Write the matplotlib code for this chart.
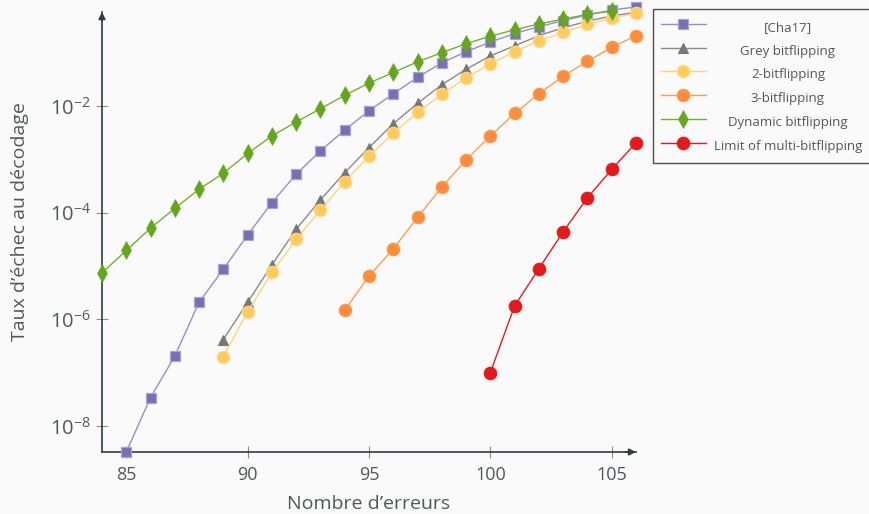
import numpy as np
import matplotlib
matplotlib.use("Agg")
import matplotlib.pyplot as plt
from matplotlib.ticker import FixedLocator, LogFormatterMathtext, NullLocator

plt.rcParams['font.family'] = ['Open Sans', 'DejaVu Sans']
plt.rcParams['mathtext.fontset'] = 'custom'
plt.rcParams['mathtext.rm'] = 'Open Sans'
plt.rcParams['mathtext.it'] = 'Open Sans:italic'
plt.rcParams['mathtext.bf'] = 'Open Sans:bold'

# ---- data (log10 of failure rate) ----
x_cha17 = list(range(85, 107))
y_cha17 = [-8.49, -7.47, -6.69, -5.68, -5.06, -4.42, -3.81, -3.28, -2.84, -2.45, -2.09,
           -1.77, -1.46, -1.19, -0.98, -0.80, -0.64, -0.51, -0.40, -0.29, -0.20, -0.14]

x_grey = list(range(89, 107))
y_grey = [-6.38, -5.68, -4.98, -4.31, -3.76, -3.25, -2.78, -2.33, -1.95, -1.60, -1.31,
          -1.06, -0.87, -0.68, -0.53, -0.41, -0.31, -0.24]

x_two = list(range(89, 107))
y_two = [-6.70, -5.86, -5.12, -4.50, -3.95, -3.42, -2.94, -2.51, -2.12, -1.78, -1.47,
         -1.21, -0.98, -0.78, -0.62, -0.47, -0.35, -0.26]

x_three = list(range(94, 107))
y_three = [-5.83, -5.19, -4.68, -4.09, -3.52, -3.01, -2.56, -2.14, -1.77, -1.44, -1.16,
           -0.90, -0.68]

x_dyn = list(range(84, 106))
y_dyn = [-5.13, -4.71, -4.29, -3.92, -3.56, -3.26, -2.89, -2.56, -2.30, -2.05, -1.80,
         -1.57, -1.37, -1.17, -1.00, -0.83, -0.69, -0.57, -0.46, -0.37, -0.28, -0.22]

x_limit = list(range(100, 107))
y_limit = [-7.00, -5.75, -5.05, -4.36, -3.72, -3.19, -2.69]

labels = ["[Cha17]", "Grey bitflipping", "2-bitflipping", "3-bitflipping",
          "Dynamic bitflipping", "Limit of multi-bitflipping"]
xticks = [85, 90, 95, 100, 105]
yticks = [1e-8, 1e-6, 1e-4, 1e-2]

bg = '#fafafa'
axis_col = '#2e3d40'
text_col = '#4e5a5a'

fig = plt.figure(figsize=(8.69, 5.14), dpi=100, facecolor=bg)
ax = fig.add_axes([102/869, 1-452/514, (636-102)/869, (452-12)/514])
ax.set_facecolor(bg)

series = [
    (x_cha17, y_cha17, dict(color='#7570b3', marker='s', ms=7.8, lc='#9490c6', mec='#a7a3d3', mew=0.9, z=3)),
    (x_grey, y_grey, dict(color='#777777', marker='^', ms=7.5, lc='#8a8a8a', mec='#777777', mew=0.8, z=4)),
    (x_two, y_two, dict(color='#fecc5c', marker='o', ms=9, lc='#fed27a', mec='#fed98a', mew=0.8, z=5)),
    (x_three, y_three, dict(color='#fd8d3c', marker='o', ms=9, lc='#fd9d55', mec='#fd9a52', mew=0.8, z=5)),
    (x_dyn, y_dyn, dict(color='#66a61e', marker='d', ms=9.2, lc='#75b030', mec='#66a61e', mew=0.4, z=6)),
    (x_limit, y_limit, dict(color='#e31a1c', marker='o', ms=9, lc='#e31a1c', mec='#e31a1c', mew=0.8, z=7)),
]
for (xs, ys, st), lab in zip(series, labels):
    ax.plot(xs, 10.0**np.array(ys), color=st['lc'], lw=1.0, marker=st['marker'],
            ms=st['ms'], mfc=st['color'], mec=st['mec'], mew=st['mew'], label=lab,
            clip_on=False, zorder=st['z'])

ax.set_yscale('log')
ax.set_xlim(84, 106)
ax.set_ylim(10**-8.49, 10**-0.236)
ax.xaxis.set_major_locator(FixedLocator(xticks))
ax.yaxis.set_major_locator(FixedLocator(yticks))
ax.yaxis.set_minor_locator(NullLocator())
ax.yaxis.set_major_formatter(LogFormatterMathtext())

for s in ['top', 'right']:
    ax.spines[s].set_visible(False)
for s in ['left', 'bottom']:
    ax.spines[s].set_color(axis_col)
    ax.spines[s].set_linewidth(1.2)

ax.tick_params(axis='both', direction='inout', length=8, width=0.8,
               colors='#8a9090', labelcolor=text_col, labelsize=13)
ax.tick_params(axis='x', pad=6)
ax.tick_params(axis='y', pad=4, labelsize=14.5)

# axis arrows
ax.annotate('', xy=(1.0, 0), xytext=(0.98, 0), xycoords='axes fraction',
            arrowprops=dict(arrowstyle='-|>', color=axis_col, lw=1.2,
                            mutation_scale=10, shrinkA=0, shrinkB=0))
ax.annotate('', xy=(0, 1.0), xytext=(0, 0.98), xycoords='axes fraction',
            arrowprops=dict(arrowstyle='-|>', color=axis_col, lw=1.2,
                            mutation_scale=10, shrinkA=0, shrinkB=0))

ax.set_xlabel('Nombre d’erreurs', fontsize=14, color=text_col, labelpad=8)
ax.set_ylabel('Taux d’échec au décodage', fontsize=14, color=text_col)
ax.yaxis.set_label_coords((29 - 102) / 534, (452 - 222) / 440)

leg = ax.legend(loc='upper left', bbox_to_anchor=(653/869, 1-9/514),
                bbox_transform=fig.transFigure, frameon=True, fancybox=False,
                fontsize=9.5, handlelength=3.4, handletextpad=0.6,
                handleheight=1.9, labelspacing=0.32, borderpad=0.6,
                borderaxespad=0)
leg.get_frame().set_edgecolor('#222222')
leg.get_frame().set_linewidth(1.0)
leg.get_frame().set_facecolor(bg)
for t in leg.get_texts():
    t.set_color(text_col)

# center legend labels within the text column
fig.canvas.draw()
widths = [t.get_window_extent().width for t in leg.get_texts()]
mw = max(widths)
for t, w in zip(leg.get_texts(), widths):
    t.set_x((mw - w) / 2)

fig.savefig('out.png', dpi=100, facecolor=bg)
